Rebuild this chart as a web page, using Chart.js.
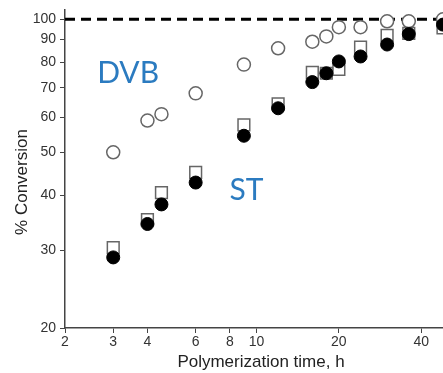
<!DOCTYPE html>
<html>
<head>
<meta charset="utf-8">
<script src="https://cdn.jsdelivr.net/npm/chart.js@4"></script>
<style>
  html, body { margin: 0; padding: 0; background: #fff; }
  #wrap { width: 443px; height: 373px; }
</style>
</head>
<body>
<div id="wrap"><canvas id="conv"></canvas></div>
<script>
// polymerization time (h) and % conversion
var hours = [3, 4, 4.5, 6, 9, 12, 16, 18, 20, 24, 30, 36, 48];
var dvb = [50, 59, 61, 68, 79, 86, 89, 91.5, 96, 96, 99, 99, 100];
var squares = [30.4, 35.2, 40.5, 45, 57.7, 64.4, 75.8, 75.5, 77, 86.5, 92, 93, 95.6];
var st = [28.9, 34.4, 38.1, 42.7, 54.5, 62.9, 72.1, 75.5, 80.3, 82.4, 87.7, 92.6, 97.3];

var xTicks = [2, 3, 4, 6, 8, 10, 20, 40];
var yTicks = [20, 30, 40, 50, 60, 70, 80, 90, 100];
var fullLine = [2, 50];

var labelText = ['DVB', 'ST'];
var labelX = [3.4, 9.2];
var labelY = [75.3, 40.9];

function pts(xs, ys) {
  return xs.map(function (x, i) { return { x: x, y: ys[i] }; });
}

var tickFont = { family: 'Liberation Sans, Arial, sans-serif', size: 14 };

var textPlugin = {
  id: 'texts',
  afterDraw: function (chart) {
    var c = chart.ctx, xs = chart.scales.x, ys = chart.scales.y, a = chart.chartArea;
    c.save();
    c.fillStyle = '#2b7bc0';
    c.font = '30px Lato, "Open Sans", sans-serif';
    c.textAlign = 'center';
    c.textBaseline = 'middle';
    for (var i = 0; i < labelText.length; i++) {
      c.fillText(labelText[i], xs.getPixelForValue(labelX[i]), ys.getPixelForValue(labelY[i]));
    }
    c.fillStyle = '#222';
    c.font = '17px "Liberation Sans", Arial, sans-serif';
    c.fillText('Polymerization time, h', (a.left + a.right) / 2 + 7, 362);
    c.translate(22, (a.top + a.bottom) / 2 + 13);
    c.rotate(-Math.PI / 2);
    c.fillText('% Conversion', 0, 0);
    c.restore();
  }
};

new Chart(document.getElementById('conv'), {
  type: 'scatter',
  data: {
    datasets: [
      {
        label: 'ST',
        data: pts(hours, st),
        pointStyle: 'circle',
        pointRadius: 6.5,
        backgroundColor: '#000',
        borderColor: '#000',
        borderWidth: 1,
        order: 1
      },
      {
        label: 'squares',
        data: pts(hours, squares),
        pointStyle: 'rect',
        pointRadius: 8.3,
        backgroundColor: '#fff',
        borderColor: '#666',
        borderWidth: 1.5,
        order: 2
      },
      {
        label: 'DVB',
        data: pts(hours, dvb),
        pointStyle: 'circle',
        pointRadius: 6.5,
        backgroundColor: '#fff',
        borderColor: '#666',
        borderWidth: 1.5,
        order: 3
      },
      {
        label: 'full',
        type: 'line',
        data: pts(fullLine, [100, 100]),
        borderColor: '#000',
        borderWidth: 3,
        borderDash: [10, 6],
        pointRadius: 0,
        order: 4
      }
    ]
  },
  options: {
    responsive: true,
    maintainAspectRatio: false,
    animation: false,
    layout: { autoPadding: false, padding: { top: 10, left: 0, right: 0, bottom: 0 } },
    plugins: {
      legend: { display: false },
      tooltip: { enabled: false }
    },
    scales: {
      x: {
        type: 'logarithmic',
        min: 2,
        max: 48,
        afterBuildTicks: function (s) { s.ticks = xTicks.map(function (v) { return { value: v }; }); },
        afterFit: function (s) { s.height = 45; s.paddingLeft = 0; s.paddingRight = 0; },
        grid: { drawOnChartArea: false, tickLength: 5, color: '#444' },
        border: { color: '#444', width: 1.5 },
        ticks: {
          color: '#333',
          font: tickFont,
          padding: 1,
          maxRotation: 0,
          autoSkip: false,
          callback: function (v) { return String(v); }
        }
      },
      y: {
        type: 'logarithmic',
        min: 20,
        max: 105,
        afterBuildTicks: function (s) { s.ticks = yTicks.map(function (v) { return { value: v }; }); },
        afterFit: function (s) { s.width = 65; s.paddingTop = 0; s.paddingBottom = 0; },
        grid: { drawOnChartArea: false, tickLength: 5, color: '#444' },
        border: { color: '#444', width: 1.5 },
        ticks: {
          color: '#333',
          font: tickFont,
          padding: 4,
          autoSkip: false,
          callback: function (v) { return String(v); }
        }
      }
    }
  },
  plugins: [textPlugin]
});
</script>
</body>
</html>
